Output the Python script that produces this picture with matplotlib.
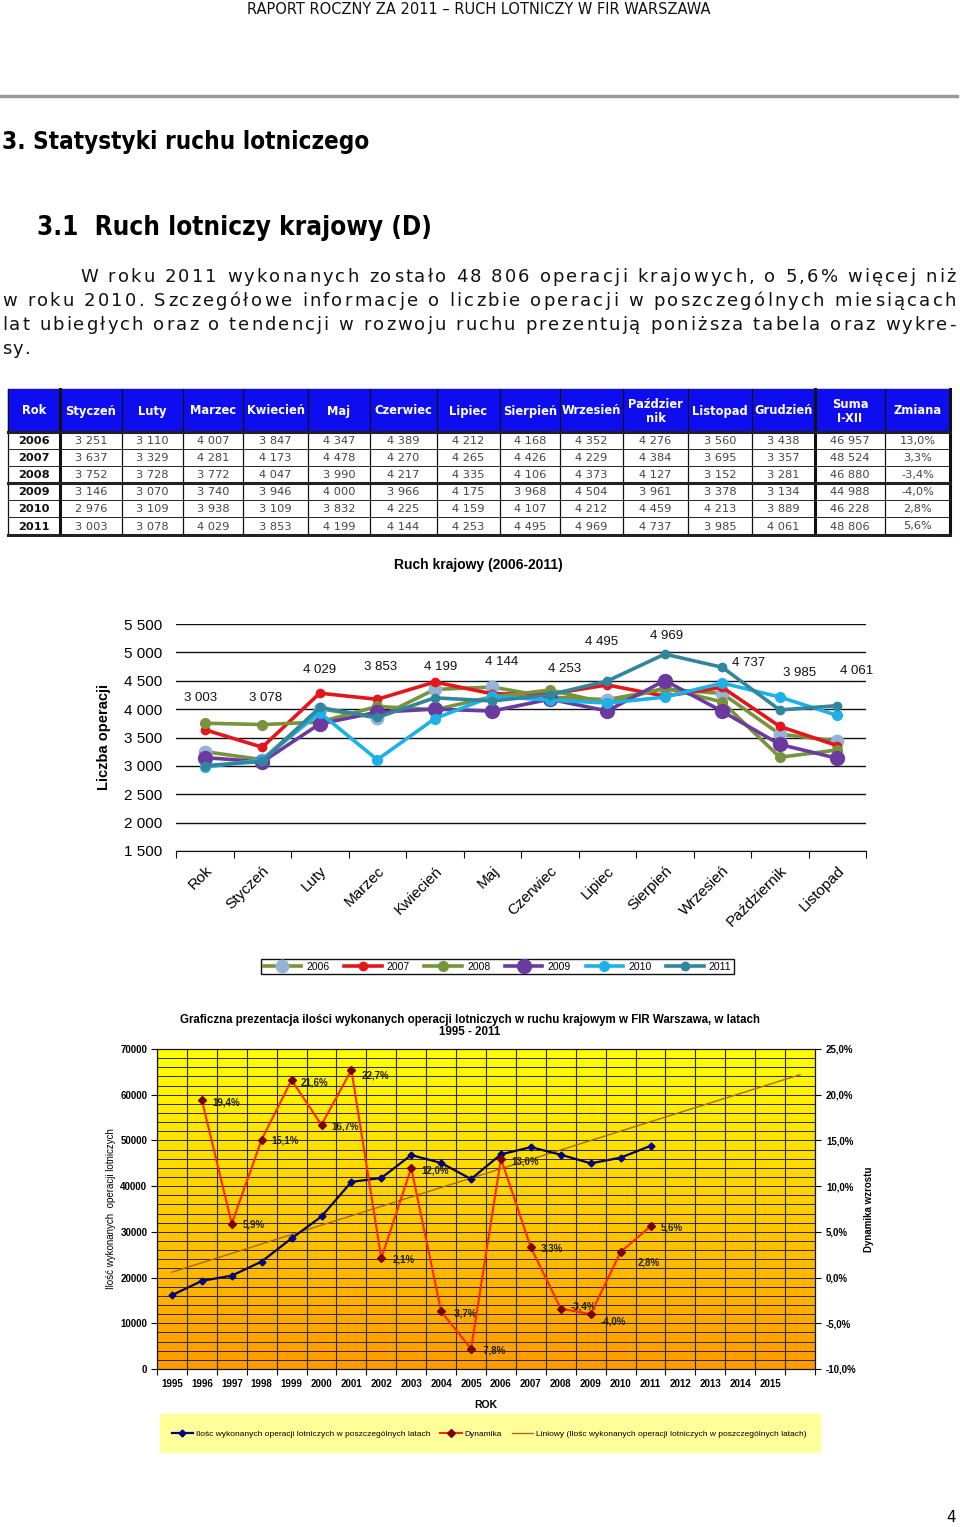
import numpy as np
import matplotlib
matplotlib.use("Agg")
import matplotlib.pyplot as plt
from matplotlib.patches import Rectangle
from matplotlib.colors import LinearSegmentedColormap

W, H = 960, 1527

# ---- table / chart 1 data -------------------------------------------------
years = [2006, 2007, 2008, 2009, 2010, 2011]
months = ["Styczeń", "Luty", "Marzec", "Kwiecień", "Maj", "Czerwiec", "Lipiec",
          "Sierpień", "Wrzesień", "Paździer\nnik", "Listopad", "Grudzień"]
axis_labels = ["Rok", "Styczeń", "Luty", "Marzec", "Kwiecień", "Maj", "Czerwiec",
               "Lipiec", "Sierpień", "Wrzesień", "Październik", "Listopad"]
ops_2006 = [3251, 3110, 4007, 3847, 4347, 4389, 4212, 4168, 4352, 4276, 3560, 3438]
ops_2007 = [3637, 3329, 4281, 4173, 4478, 4270, 4265, 4426, 4229, 4384, 3695, 3357]
ops_2008 = [3752, 3728, 3772, 4047, 3990, 4217, 4335, 4106, 4373, 4127, 3152, 3281]
ops_2009 = [3146, 3070, 3740, 3946, 4000, 3966, 4175, 3968, 4504, 3961, 3378, 3134]
ops_2010 = [2976, 3109, 3938, 3109, 3832, 4225, 4159, 4107, 4212, 4459, 4213, 3889]
ops_2011 = [3003, 3078, 4029, 3853, 4199, 4144, 4253, 4495, 4969, 4737, 3985, 4061]
monthly = [ops_2006, ops_2007, ops_2008, ops_2009, ops_2010, ops_2011]

# ---- chart 2 data ---------------------------------------------------------
annual_years = list(range(1995, 2012))
annual_ops = [16150, 19280, 20420, 23510, 28580, 33360, 40930, 41790, 46800,
              45070, 41560, 46957, 48524, 46880, 44988, 46228, 48806]
growth_years = list(range(1996, 2012))
growth_pct = [19.4, 5.9, 15.1, 21.6, 16.7, 22.7, 2.1, 12.0, -3.7, -7.8,
              13.0, 3.3, -3.4, -4.0, 2.8, 5.6]
axis_years = [str(y) for y in range(1995, 2016)] + [""]

# styling
line_colors = ["#77933C", "#E3161B", "#77933C", "#6B3A9E", "#1CB2E8", "#31859C"]
marker_colors = ["#95B3D7", "#E3161B", "#77933C", "#6B3A9E", "#1CB2E8", "#31859C"]
marker_sizes = [9, 6, 7, 10, 7, 6]
label_lift = [68, 63, 37, 50, 31, 39, 26, 39, 18, 4, 37, 35]
label_shift = [-4, 3, 0, 3, 6, 9, 15, -6, 2, 26, 20, 19]
pct_offsets = [(11, -2), (11, -1), (10, -1), (9, -2), (10, -2), (10, -5), (11, -1), (10, -3),
               (10, -2), (10, -2), (10, -3), (10, -1), (10, 2), (10, -7), (17, -11), (10, -1)]


def spaced(v):
    return f"{int(v):,}".replace(",", " ")


def pct(v):
    return f"{v:.1f}%".replace(".", ",")


fig = plt.figure(figsize=(9.6, 15.27), dpi=100)
page = fig.add_axes([0, 0, 1, 1])
page.set_xlim(0, W)
page.set_ylim(H, 0)
page.axis("off")
renderer = fig.canvas.get_renderer()


def fit(txt, width):
    w = txt.get_window_extent(renderer).width
    txt.set_fontsize(txt.get_fontsize() * width / w)


def tracked(line, x0, y, x1=None, **kw):
    # draw a line char by char, spreading it to x1 (letter spacing like the source)
    arts, widths = [], []
    probe = page.text(0, y, "xx", **kw)
    probe2 = page.text(0, y, "x x", **kw)
    space_w = probe2.get_window_extent(renderer).width - probe.get_window_extent(renderer).width
    probe.remove()
    probe2.remove()
    for ch in line:
        if ch == " ":
            arts.append(None)
            widths.append(space_w)
        else:
            a = page.text(0, y, ch, va="baseline", **kw)
            arts.append(a)
            widths.append(a.get_window_extent(renderer).width)
    ls = 1.0 if x1 is None else (x1 - x0 - sum(widths)) / (len(line) - 1)
    x = x0
    for a, w in zip(arts, widths):
        if a is not None:
            a.set_x(x)
        x += w + ls


# ---- page text ------------------------------------------------------------
page.text(479, 14, "RAPORT ROCZNY ZA 2011 – RUCH LOTNICZY W FIR WARSZAWA",
          ha="center", va="baseline", fontsize=10.5, color="#111111")
page.plot([0, 957], [96, 96], color="#9a9a9a", lw=2.5)
t = page.text(2, 149, "3. Statystyki ruchu lotniczego", fontsize=15, fontweight="bold",
              va="baseline", fontstretch="condensed")
fit(t, 368)
t = page.text(37, 235, "3.1  Ruch lotniczy krajowy (D)", fontsize=15, fontweight="bold",
              va="baseline", fontstretch="condensed")
fit(t, 396)

para = dict(fontsize=13, color="#111111")
tracked("W roku 2011 wykonanych zostało 48 806 operacji krajowych, o 5,6% więcej niż",
        80, 282, 956, **para)
tracked("w roku 2010. Szczegółowe informacje o liczbie operacji w poszczególnych miesiącach",
        2, 306, 956, **para)
tracked("lat ubiegłych oraz o tendencji w rozwoju ruchu prezentują poniższa tabela oraz wykre-",
        2, 330, 956, **para)
tracked("sy.", 2, 354, **para)
page.text(951, 1518, "4", ha="center", va="center", fontsize=11)

# ---- table ----------------------------------------------------------------
col_edges = [8, 60, 122, 183, 243, 308, 370, 437, 500, 560, 623, 688, 752, 815, 885, 950]
row_edges = [432, 449, 466, 483, 500, 517, 535]
page.add_patch(Rectangle((8, 389), 942, 43, color="#0D0DF0", zorder=1))
headers = ["Rok"] + months + ["Suma\nI-XII", "Zmiana"]
for i, h in enumerate(headers):
    xc = (col_edges[i] + col_edges[i + 1]) / 2
    page.text(xc, 411, h, ha="center", va="center", color="white", fontweight="bold",
              fontsize=8.3, linespacing=1.1, zorder=3)
for r, yr in enumerate(years):
    yc = (row_edges[r] + row_edges[r + 1]) / 2 + 0.5
    cells = [str(yr)] + [spaced(v) for v in monthly[r]] + \
            [spaced(annual_ops[annual_years.index(yr)]), pct(growth_pct[growth_years.index(yr)])]
    for i, c in enumerate(cells):
        xc = (col_edges[i] + col_edges[i + 1]) / 2
        page.text(xc, yc, c, ha="center", va="center", fontsize=8.2,
                  color="#111111" if i == 0 else "#454545",
                  fontweight="bold" if i == 0 else "normal", zorder=3)
for i, x in enumerate(col_edges):
    lw = 2.2 if x in (60, 815, 950) else 0.9
    page.plot([x, x], [389, 535], color="#111111", lw=lw, zorder=2)
for y in row_edges:
    lw = 2.2 if y in (432, 483, 535) else 0.7
    page.plot([8, 950], [y, y], color="#222222", lw=lw, zorder=2)

# ---- chart 1 --------------------------------------------------------------
page.text(478, 565, "Ruch krajowy (2006-2011)", ha="center", va="center",
          fontsize=10, fontweight="bold", family="Liberation Sans")
ax1 = fig.add_axes([176 / W, 1 - 851 / H, (866 - 176) / W, (851 - 624) / H])
ax1.patch.set_alpha(0)
xc = np.arange(12) + 0.5
lines = []
for i, yr in enumerate(years):
    ln, = ax1.plot(xc, monthly[i], color=line_colors[i], lw=2.6, marker="o",
                   markersize=marker_sizes[i], markerfacecolor=marker_colors[i],
                   markeredgecolor=marker_colors[i], zorder=3 + i, label=str(yr))
    lines.append(ln)
for i, v in enumerate(ops_2011):
    ax1.annotate(spaced(v), (xc[i], v), xytext=(label_shift[i], label_lift[i]),
                 textcoords="offset pixels", ha="center", va="center",
                 fontsize=9.5, family="Liberation Sans", color="#111111")
ax1.set_xlim(0, 12)
ax1.set_ylim(1500, 5500)
ax1.set_yticks(np.arange(1500, 5501, 500))
ax1.set_yticklabels([spaced(v) for v in np.arange(1500, 5501, 500)])
ax1.set_xticks(np.arange(13))
ax1.set_xticklabels([])
ax1.set_xticks(xc, labels=axis_labels, minor=True)
ax1.tick_params(axis="x", which="major", length=5, color="#111111")
ax1.tick_params(axis="x", which="minor", length=0, pad=9)
ax1.tick_params(axis="y", length=0, pad=10)
for lab in ax1.get_xticklabels(minor=True):
    lab.set_rotation(45)
    lab.set_ha("right")
    lab.set_va("top")
    lab.set_rotation_mode("anchor")
    lab.set_fontsize(11)
    lab.set_family("Liberation Sans")
for lab in ax1.get_yticklabels():
    lab.set_fontsize(11)
    lab.set_family("Liberation Sans")
ax1.grid(axis="y", color="#111111", lw=1)
for s in ["top", "right", "left"]:
    ax1.spines[s].set_visible(False)
ax1.spines["bottom"].set_color("#111111")
ax1.set_ylabel("Liczba operacji", fontsize=10.5, fontweight="bold", family="Liberation Sans",
               labelpad=9)
fig.legend(handles=lines, labels=[str(y) for y in years], ncol=6, loc="center",
           bbox_to_anchor=(497.5 / W, 1 - 966.5 / H), frameon=True,
           fancybox=False, edgecolor="#111111", framealpha=1, handlelength=3.6,
           columnspacing=1.4, borderpad=0.25, handletextpad=0.5,
           prop={"family": "Liberation Sans", "size": 7.5})

# ---- chart 2 --------------------------------------------------------------
page.text(470, 1026, "Graficzna prezentacja ilości wykonanych operacji lotniczych w ruchu krajowym w FIR Warszawa, w latach\n1995 - 2011",
          ha="center", va="center", fontsize=8.3, fontweight="bold", family="Liberation Sans",
          linespacing=1.05)
ax2 = fig.add_axes([157 / W, 1 - 1369 / H, (815 - 157) / W, 320 / H])
n_cat = len(axis_years)
grad = np.linspace(1, 0, 256).reshape(-1, 1)
cmap = LinearSegmentedColormap.from_list("yo", ["#FF9A00", "#FFFF00"])
ax2.imshow(grad, extent=[0, n_cat, 0, 70000], aspect="auto", cmap=cmap, zorder=0,
           interpolation="bilinear", origin="upper")
ax2.set_xlim(0, n_cat)
ax2.set_ylim(0, 70000)
x_ann = np.arange(len(annual_ops)) + 0.5
slope, icpt = np.polyfit(x_ann, annual_ops, 1)
x_tr = np.array([0.5, n_cat - 0.5])
trend, = ax2.plot(x_tr, icpt + slope * x_tr, color="#A86B1E", lw=1, zorder=3)
ops_ln, = ax2.plot(x_ann, annual_ops, color="#000066", lw=1.6, marker="D", markersize=3.5,
                   markerfacecolor="#000080", markeredgecolor="#000080", zorder=4)
ax2.set_yticks(np.arange(0, 70001, 10000))
ax2.set_yticks(np.arange(0, 70001, 2000), minor=True)
ax2.set_xticks(np.arange(n_cat + 1))
ax2.set_xticklabels([])
ax2.set_xticks(np.arange(n_cat) + 0.5, labels=axis_years, minor=True)
ax2.grid(which="both", axis="y", color="#2a2a00", lw=0.7)
ax2.grid(which="major", axis="x", color="#2a2a00", lw=0.8)
ax2.tick_params(axis="x", which="major", length=4, color="#111111")
ax2.tick_params(axis="x", which="minor", length=0, pad=7, labelsize=7)
ax2.tick_params(axis="y", which="major", length=4, pad=3, labelsize=7)
ax2.tick_params(axis="y", which="minor", length=0)
for lab in ax2.get_xticklabels(minor=True) + ax2.get_yticklabels():
    lab.set_fontweight("bold")
    lab.set_family("Liberation Sans")
ax2.set_xlabel("ROK", fontsize=7.5, fontweight="bold", family="Liberation Sans", labelpad=8)
ax2.set_ylabel("Ilość wykonanych  operacji lotniczych", fontsize=7, family="Liberation Sans",
               labelpad=3)
for s in ax2.spines.values():
    s.set_color("#111111")

ax2r = ax2.twinx()
ax2r.set_ylim(-10, 25)
ax2r.set_yticks(np.arange(-10, 26, 5))
ax2r.set_yticklabels([pct(v) for v in np.arange(-10, 26, 5)])
ax2r.tick_params(axis="y", length=4, pad=4, labelsize=7)
for lab in ax2r.get_yticklabels():
    lab.set_fontweight("bold")
    lab.set_family("Liberation Sans")
x_gr = np.array([annual_years.index(y) for y in growth_years]) + 0.5
dyn_ln, = ax2r.plot(x_gr, growth_pct, color="#FF2A00", lw=1.5, marker="D", markersize=3.8,
                    markerfacecolor="#7A0000", markeredgecolor="#7A0000", zorder=5)
for xg, v, off in zip(x_gr, growth_pct, pct_offsets):
    ax2r.annotate(pct(v), (xg, v), xytext=off, textcoords="offset pixels", ha="left",
                  va="center", fontsize=7, fontweight="bold", family="Liberation Sans",
                  color="#222222")
ax2r.set_ylabel("Dynamika wzrostu", fontsize=7, fontweight="bold", family="Liberation Sans",
                labelpad=5)
for s in ax2r.spines.values():
    s.set_color("#111111")

page.add_patch(Rectangle((160, 1414), 660, 38, color="#FFFF99", zorder=1))
fig.legend(handles=[ops_ln, dyn_ln, trend],
           labels=["Ilośc wykonanych operacji lotniczych w poszczególnych latach", "Dynamika",
                   "Liniowy (Ilośc wykonanych operacji lotniczych w poszczególnych latach)"],
           ncol=3, loc="center left", bbox_to_anchor=(164 / W, 1 - 1434 / H),
           frameon=False, handlelength=2.6, columnspacing=1.2, handletextpad=0.3,
           prop={"family": "Liberation Sans", "size": 6.0})

fig.savefig("out.png", dpi=100)
